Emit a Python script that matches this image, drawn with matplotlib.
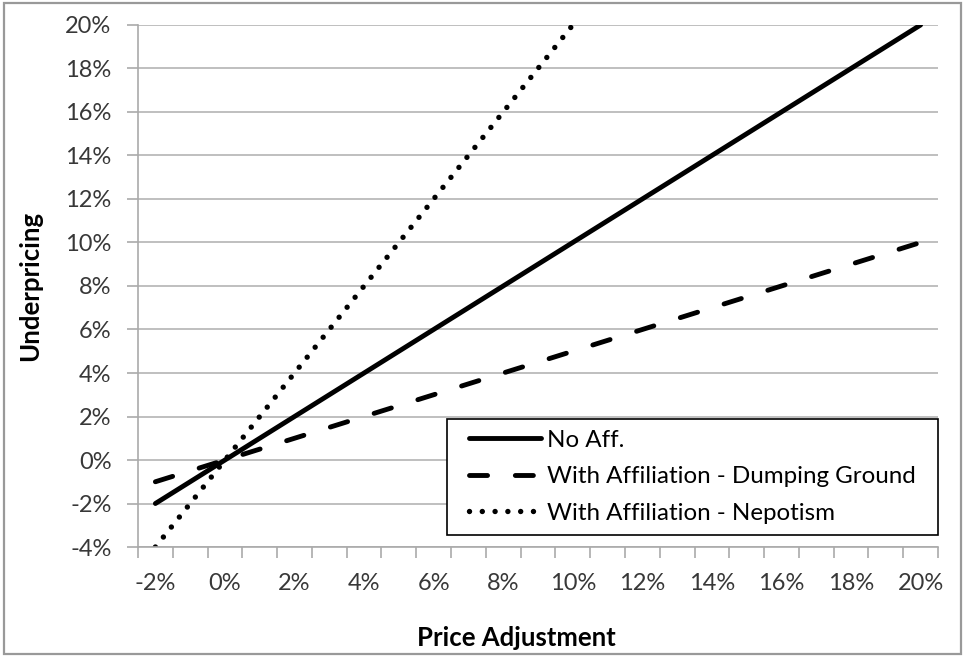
import matplotlib
matplotlib.use("Agg")
import matplotlib.pyplot as plt
from matplotlib.patches import Rectangle

# ---- data ----
price_adj = [-2, -1, 0, 1, 2, 3, 4, 5, 6, 7, 8, 9, 10, 11, 12, 13, 14, 15, 16, 17, 18, 19, 20]
no_aff = [-2, -1, 0, 1, 2, 3, 4, 5, 6, 7, 8, 9, 10, 11, 12, 13, 14, 15, 16, 17, 18, 19, 20]
dumping = [-1, -0.5, 0, 0.5, 1, 1.5, 2, 2.5, 3, 3.5, 4, 4.5, 5, 5.5, 6, 6.5, 7, 7.5, 8, 8.5, 9, 9.5, 10]
nepotism = [-4, -2, 0, 2, 4, 6, 8, 10, 12, 14, 16, 18, 20]
series_names = ["No Aff.", "With Affiliation - Dumping Ground", "With Affiliation - Nepotism"]
y_ticks = [-4, -2, 0, 2, 4, 6, 8, 10, 12, 14, 16, 18, 20]

plt.rcParams['font.family'] = ['Lato', 'DejaVu Sans']
plt.rcParams['lines.scale_dashes'] = False

fig = plt.figure(figsize=(9.65, 6.57), dpi=100)
ax = fig.add_axes([0.143, 0.1674, 0.829, 0.7946])

idx = list(range(len(price_adj)))
lw = 3.5
ax.plot(idx, no_aff, color='black', lw=lw, solid_capstyle='round', label=series_names[0])
ax.plot(idx, dumping, color='black', lw=lw, dashes=(13.0, 20.0), dash_capstyle='round', label=series_names[1])
ax.plot(idx[:len(nepotism)], nepotism, color='black', lw=3.9, dashes=(0.01, 9.2), dash_capstyle='round', label=series_names[2])

ax.set_xlim(-0.5, len(price_adj) - 0.5)
ax.set_ylim(-4, 20)
ax.set_yticks(y_ticks)
ax.set_yticklabels([f"{v}%" for v in y_ticks])

# category axis: labels at every other category, tick marks at boundaries
ax.set_xticks([i for i in idx if price_adj[i] % 2 == 0])
ax.set_xticklabels([f"{price_adj[i]}%" for i in idx if price_adj[i] % 2 == 0])
ax.set_xticks([i - 0.5 for i in range(len(price_adj) + 1)], minor=True)
ax.tick_params(axis='x', which='major', length=0, pad=19, labelsize=17, labelcolor='#383838')
ax.tick_params(axis='x', which='minor', length=8, width=1.2, color='#aaaaaa')
ax.tick_params(axis='y', length=8, width=1.2, color='#aaaaaa', pad=11, labelsize=17, labelcolor='#383838')

ax.grid(axis='y', color='#b4b4b4', lw=1.2)
ax.set_axisbelow(True)
for s in ['top', 'right']:
    ax.spines[s].set_visible(False)
for s in ['left', 'bottom']:
    ax.spines[s].set_color('#aaaaaa')
    ax.spines[s].set_linewidth(1.2)

ax.set_xlabel("Price Adjustment", fontsize=18.5, fontweight='bold')
ax.xaxis.set_label_coords(0.473, -0.152)
ax.set_ylabel("Underpricing", fontsize=18.5, fontweight='bold')
ax.yaxis.set_label_coords(-0.12, 0.5)

# legend content; frame drawn separately to match the wider side padding
leg = ax.legend(loc='lower right', bbox_to_anchor=(0.972, 0.045), fontsize=17.4,
                frameon=False, handlelength=2.95, handletextpad=0.25, labelspacing=0.64,
                borderpad=0.0, borderaxespad=0)
leg.set_zorder(6)
fig.canvas.draw()
bb = leg.get_window_extent()
padx, pady = 22, 11
frame = Rectangle((bb.x0 - padx, bb.y0 - pady), bb.width + 2 * padx, bb.height + 2 * pady,
                  transform=None, facecolor='white', edgecolor='black', lw=1.2,
                  zorder=5, clip_on=False)
ax.add_artist(frame)

fig.patches.append(Rectangle((0.004, 0.005), 0.992, 0.99, transform=fig.transFigure,
                             fill=False, edgecolor='#999999', lw=1.6))

fig.savefig("out.png", dpi=100)
